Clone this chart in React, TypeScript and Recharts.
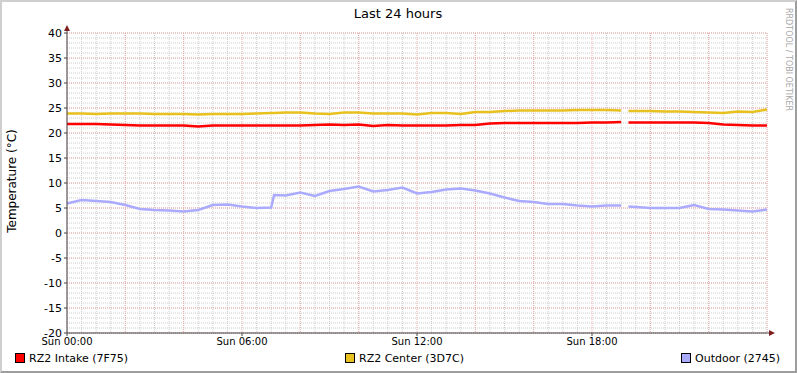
import React from "react";
import {LineChart, Line, XAxis, YAxis, CartesianGrid} from "recharts";

// time of day in hours since Sun 00:00
const hours = [
    0, 0.5, 1, 1.5, 2, 2.5, 3, 3.5, 4, 4.5, 5, 5.5, 6, 6.5, 7, 7.1, 7.5, 8, 8.5, 9, 9.5,
    10, 10.5, 11, 11.5, 12, 12.5, 13, 13.5, 14, 14.5, 15, 15.5, 16, 16.5, 17, 17.5, 18, 18.5,
    19, 19.1, 19.25, 19.5, 20, 20.5, 21, 21.5, 22, 22.5, 23, 23.5, 24,
];

const intake = [
    21.8, 21.8, 21.8, 21.7, 21.6, 21.5, 21.5, 21.5, 21.5, 21.3, 21.5, 21.5, 21.5, 21.5, 21.5, 21.5, 21.5, 21.5, 21.6, 21.7, 21.6,
    21.7, 21.4, 21.6, 21.5, 21.5, 21.5, 21.5, 21.6, 21.6, 21.9, 22.0, 22.0, 22.0, 22.0, 22.0, 22.0, 22.1, 22.1,
    22.2, null, 22.1, 22.1, 22.1, 22.1, 22.1, 22.1, 22.0, 21.7, 21.6, 21.5, 21.5,
];

const center = [
    23.9, 23.9, 23.8, 23.9, 23.9, 23.9, 23.8, 23.8, 23.8, 23.7, 23.8, 23.8, 23.8, 23.9, 24.0, 24.0, 24.1, 24.1, 23.9, 23.8, 24.1,
    24.1, 23.9, 23.9, 23.9, 23.7, 24.0, 24.0, 23.8, 24.2, 24.2, 24.4, 24.5, 24.5, 24.5, 24.5, 24.6, 24.6, 24.6,
    24.5, null, 24.4, 24.4, 24.4, 24.3, 24.3, 24.2, 24.1, 24.0, 24.3, 24.2, 24.7,
];

const outdoor = [
    5.9, 6.6, 6.4, 6.2, 5.6, 4.8, 4.6, 4.5, 4.3, 4.6, 5.6, 5.7, 5.3, 5.0, 5.1, 7.6, 7.5, 8.1, 7.4, 8.4, 8.8,
    9.3, 8.3, 8.6, 9.1, 7.9, 8.2, 8.7, 8.9, 8.5, 7.9, 7.1, 6.4, 6.2, 5.8, 5.8, 5.5, 5.3, 5.5,
    5.5, null, 5.3, 5.2, 5.0, 5.0, 5.0, 5.6, 4.8, 4.7, 4.5, 4.3, 4.7,
];

const yTicks = [-20, -15, -10, -5, 0, 5, 10, 15, 20, 25, 30, 35, 40];
const xTicks = [0, 6, 12, 18];
const xTickLabels = ["Sun 00:00", "Sun 06:00", "Sun 12:00", "Sun 18:00"];

const minorY = Array.from({length: 61}, (_, i) => i - 20);
const minorX = Array.from({length: 49}, (_, i) => i * 0.5);
const majorY = yTicks;
const majorX = [0, 2, 4, 6, 8, 10, 12, 14, 16, 18, 20, 22, 24];

const series = [
    {key: "intake", name: "RZ2 Intake (7F75)", color: "#ff0000"},
    {key: "center", name: "RZ2 Center (3D7C)", color: "#e8c11f"},
    {key: "outdoor", name: "Outdoor (2745)", color: "#aaaaff"},
];

const data = hours.map((h, i) => ({h, intake: intake[i], center: center[i], outdoor: outdoor[i]}));

const FONT = "'DejaVu Sans', sans-serif";

const legendPos = [15, 345, 681];

export default function App() {
    return (
        <div style={{
            position: "absolute", left: 0, top: 0, width: 797, height: 373, background: "#fff",
            boxSizing: "border-box", borderTop: "2px solid #cfcfcf", borderLeft: "2px solid #cfcfcf",
            borderRight: "2px solid #9e9e9e", borderBottom: "2px solid #9e9e9e", fontFamily: FONT,
        }}>
            <div style={{position: "absolute", left: -2, top: -2}}>
                <LineChart width={797} height={373} data={data} margin={{top: 33, right: 30, bottom: 20, left: 0}}>
                    <CartesianGrid horizontalValues={minorY} verticalValues={minorX} stroke="#cccccc" strokeDasharray="1 1"/>
                    <CartesianGrid horizontalValues={majorY} verticalValues={majorX} stroke="#eeaaaa" strokeDasharray="1 1"/>
                    <XAxis dataKey="h" type="number" domain={[0, 24]} ticks={xTicks} height={20}
                           tickFormatter={(v: number) => xTickLabels[xTicks.indexOf(v)]}
                           tick={{fontSize: 10, fill: "#000", fontFamily: FONT}}
                           stroke="#444" tickSize={3} tickMargin={2}/>
                    <YAxis type="number" domain={[-20, 40]} ticks={yTicks} width={67} interval={0}
                           tick={{fontSize: 11, fill: "#000", fontFamily: FONT}}
                           stroke="#444" tickSize={3} tickMargin={2}/>
                    {series.map(s => (
                        <Line key={s.key} dataKey={s.key} type="linear" stroke={s.color} strokeWidth={2.5}
                              dot={false} isAnimationActive={false} connectNulls={false}/>
                    ))}
                </LineChart>
                <svg width={797} height={373} style={{position: "absolute", left: 0, top: 0, pointerEvents: "none"}}>
                    <line x1={67} y1={33} x2={67} y2={28} stroke="#444"/>
                    <polygon points="64,31 70,31 67,25" fill="#7f1f1f"/>
                    <line x1={767} y1={333} x2={771} y2={333} stroke="#444"/>
                    <polygon points="769,330 769,336 775,333" fill="#7f1f1f"/>
                    <text x={398} y={18} textAnchor="middle" fontSize={13} fontFamily={FONT} fill="#000">Last 24 hours</text>
                    <text x={0} y={0} transform="translate(16,181) rotate(-90)" textAnchor="middle" fontSize={12}
                          fontFamily={FONT} fill="#000">Temperature (°C)</text>
                    <text x={0} y={0} transform="translate(786,8) rotate(90)" textAnchor="start" fontSize={8}
                          fontFamily={FONT} fill="#a8a8a8">RRDTOOL / TOBI OETIKER</text>
                    {series.map((s, i) => (
                        <g key={s.key}>
                            <rect x={legendPos[i] + 0.5} y={353.5} width={9} height={9} fill={s.color} stroke="#000"/>
                            <text x={legendPos[i] + 14} y={362} fontSize={11} fontFamily={FONT} fill="#000">{s.name}</text>
                        </g>
                    ))}
                </svg>
            </div>
        </div>
    );
}
